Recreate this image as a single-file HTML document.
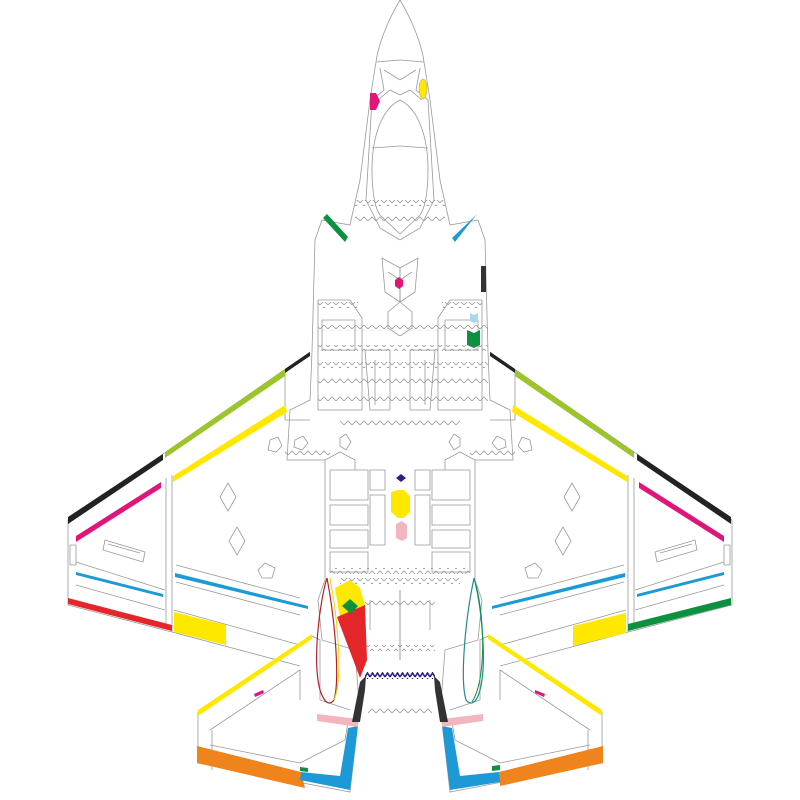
<!DOCTYPE html>
<html><head><meta charset="utf-8"><style>html,body{margin:0;padding:0;background:#fff}svg{display:block}</style></head>
<body>
<svg width="800" height="800" viewBox="0 0 800 800" xmlns="http://www.w3.org/2000/svg">
<defs>
<pattern id="zz" width="8" height="6" patternUnits="userSpaceOnUse"><path d="M0,5 L4,1 L8,5" fill="none" stroke="#999" stroke-width="0.8"/></pattern>
<pattern id="nz" width="5" height="6" patternUnits="userSpaceOnUse"><path d="M0,5 L2.5,1 L5,5" fill="none" stroke="#2a2180" stroke-width="1.6"/></pattern>
<g id="side" fill="none" stroke="#999" stroke-width="0.8">
  <path d="M310,352 L68,520 L68,605 L172,632 L300,666"/>
  <path d="M172,475 L172,632 M166,478 L166,628"/>
  <path d="M285,370 L285,420 L310,420"/>
  <path d="M76,562 L165,590 M76,585 L165,610 M176,565 L300,598 M176,582 L300,615 M174,610 L300,645"/>
  <path d="M105,540 L145,552 L143,562 L103,550 Z M108,544 L140,553"/>
  <path d="M228,483 L236,497 L228,511 L220,497 Z M237,527 L245,541 L237,555 L229,541 Z M265,563 L275,568 L272,578 L262,578 L258,570 Z M270,440 L278,437 L282,446 L276,452 L268,450 Z"/>
  <path d="M70,545 L76,545 L76,565 L70,565 Z"/>
  <path d="M198,712 L312,636 L320,640 L320,700 L350,710 M198,712 L198,763 L350,792 L358,722"/>
  <path d="M210,730 L300,670 L300,700 M212,730 L212,770 M210,745 L300,763 L345,740 L348,722"/>
  <path d="M400,0 C388,20 378,45 376,62 L370,100 L360,180 L350,225 L322,220 L315,240 L312,352 L310,400 L290,410 L287,460 L325,460 L325,580 L318,600 L322,640 L355,650 L360,715"/>
  <path d="M376,62 L400,60 M380,68 L384,90 L372,100 L366,200 L380,228 L400,240"/>
  <path d="M384,70 L400,80 M378,100 L390,90 L400,95"/>
  <path d="M400,100 C380,110 372,140 372,170 C372,195 376,210 380,215 L400,234"/>
  <path d="M372,148 L400,146"/>
  <path d="M382,258 L400,268 L400,302 L385,292 Z M388,272 L400,280"/>
  <path d="M400,302 L388,312 L388,328 L400,336"/>
  <path d="M318,300 L350,300 L362,318 L362,410 L318,410 Z M322,320 L355,320 L355,350 L322,350 Z"/>
  <path d="M365,350 L390,350 L390,410 L370,410 Z M375,360 L375,405"/>
  <path d="M330,470 L368,470 L368,500 L330,500 Z M330,505 L368,505 L368,525 L330,525 Z M330,530 L368,530 L368,548 L330,548 Z M330,552 L368,552 L368,572 L330,572 Z M370,470 L385,470 L385,490 L370,490 Z M370,495 L385,495 L385,545 L370,545 Z"/>
  <path d="M325,460 L340,452 L355,460 L355,470"/>
  <path d="M370,600 L370,630 M400,590 L400,660"/>
  <path d="M295,440 L303,436 L308,443 L302,450 L294,447 Z M340,438 L346,434 L351,442 L346,450 L340,446 Z"/>
</g>
</defs>
<use href="#side"/>
<use href="#side" transform="translate(800,0) scale(-1,1)"/>
<g>
  <rect x="355" y="200" width="90" height="6" fill="url(#zz)"/>
  <rect x="355" y="215" width="90" height="6" fill="url(#zz)"/>
  <rect x="318" y="302" width="40" height="6" fill="url(#zz)"/>
  <rect x="442" y="302" width="40" height="6" fill="url(#zz)"/>
  <rect x="318" y="325" width="170" height="6" fill="url(#zz)"/>
  <rect x="318" y="345" width="170" height="6" fill="url(#zz)"/>
  <rect x="318" y="362" width="170" height="6" fill="url(#zz)"/>
  <rect x="318" y="378" width="170" height="6" fill="url(#zz)"/>
  <rect x="318" y="395" width="170" height="6" fill="url(#zz)"/>
  <rect x="340" y="420" width="120" height="6" fill="url(#zz)"/>
  <rect x="285" y="450" width="45" height="6" fill="url(#zz)"/>
  <rect x="470" y="450" width="45" height="6" fill="url(#zz)"/>
  <rect x="330" y="568" width="140" height="6" fill="url(#zz)"/>
  <rect x="340" y="578" width="120" height="6" fill="url(#zz)"/>
  <rect x="365" y="600" width="70" height="6" fill="url(#zz)"/>
  <rect x="365" y="645" width="70" height="6" fill="url(#zz)"/>
  <rect x="368" y="708" width="64" height="6" fill="url(#zz)"/>
  <rect x="365" y="672" width="70" height="7" fill="url(#nz)"/>
</g>
<polygon points="370,93 376,93 380,101 376,110 370,110" fill="#e0157a"/>
<ellipse cx="423" cy="89" rx="4" ry="10" fill="#ffe800" stroke="#999" stroke-width="0.5"/>
<polygon points="323,218 327,214 348,237 345,242" fill="#0d9140"/>
<polygon points="473,218 477,214 455,242 452,238" fill="#1d9ad6"/>
<polygon points="395,280 399,277 403,280 403,286 399,289 395,286" fill="#e0157a"/>
<rect x="481" y="266" width="5" height="26" fill="#333"/>
<polygon points="470,313 474,315 478,313 478,321 474,323 470,321" fill="#a8d8f0"/>
<polygon points="467,330 474,333 480,330 480,345 474,348 467,345" fill="#0d9140"/>
<polygon points="396,478 401,474 406,478 401,482" fill="#2a2180"/>
<polygon points="391,492 398,490 404,490 410,496 410,512 404,518 398,518 391,512" fill="#ffe800"/>
<polygon points="396,524 402,521 407,525 407,538 402,541 396,538" fill="#f4b6be"/>
<g stroke="none">
<polygon points="285,369 310,352 310,356 285,373" fill="#222"/>
<polygon points="165,452 285,369 285,376 165,458" fill="#9dc42a"/>
<polygon points="68,517 163,454 163,460 68,524" fill="#222"/>
<polygon points="76,536 161,482 161,488 76,542" fill="#e0157a"/>
<polygon points="173,476 285,405 287,412 173,482" fill="#ffe800"/>
<polygon points="175,573 308,606 308,609 175,577" fill="#1d9ad6"/>
<polygon points="76,572 163,594 163,597 76,575" fill="#1d9ad6"/>
<polygon points="68,598 172,625 172,631 68,604" fill="#e4262b"/>
<polygon points="174,612 226,625 226,645 174,632" fill="#ffe800"/>
<polygon points="198,710 312,634 312,639 198,716" fill="#ffe800"/>
<polygon points="254,694 263,690 264,693 255,697" fill="#e0157a"/>
<polygon points="197,746 301,772 305,788 197,763" fill="#f0841c"/>
<polygon points="301,772 340,776 348,728 358,726 350,790 300,780" fill="#1d9ad6"/>
<polygon points="300,767 308,768 308,772 300,771" fill="#0d9140"/>
<polygon points="317,714 358,719 358,727 317,721" fill="#f4b6be"/>
<polygon points="352,722 360,682 366,676 365,690 360,722" fill="#333"/>
<polygon points="335,588 350,580 360,588 365,605 340,618" fill="#ffe800"/>
<polygon points="337,617 365,605 367,660 360,678" fill="#e4262b"/>
<polygon points="342,606 350,599 358,606 351,614" fill="#0d9140"/>
</g>
<path d="M327,578 C320,600 312,660 320,690 C325,705 330,705 334,700 C340,680 335,620 327,578 Z" fill="none" stroke="#b0202a" stroke-width="1.2"/>
<path d="M330,578 C338,620 343,680 334,700" fill="none" stroke="#e8d800" stroke-width="1"/>
<g stroke="none">
<polygon points="490,352 515,369 515,373 490,356" fill="#222"/>
<polygon points="515,369 634,452 634,458 515,376" fill="#9dc42a"/>
<polygon points="637,454 731,517 731,524 637,460" fill="#222"/>
<polygon points="639,482 724,536 724,542 639,488" fill="#e0157a"/>
<polygon points="513,405 627,476 627,482 512,412" fill="#ffe800"/>
<polygon points="492,606 625,573 625,577 492,609" fill="#1d9ad6"/>
<polygon points="637,594 724,572 724,575 637,597" fill="#1d9ad6"/>
<polygon points="628,624 731,598 731,605 628,631" fill="#0d9140"/>
<polygon points="573,626 626,613 626,633 573,646" fill="#ffe800"/>
<polygon points="488,634 602,710 602,716 488,639" fill="#ffe800"/>
<polygon points="535,690 545,694 544,697 535,693" fill="#e0157a"/>
<polygon points="499,772 603,746 603,763 500,786" fill="#f0841c"/>
<polygon points="499,772 460,776 452,728 442,726 450,790 500,782" fill="#1d9ad6"/>
<polygon points="492,766 500,765 500,770 492,771" fill="#0d9140"/>
<polygon points="442,719 483,714 483,721 442,727" fill="#f4b6be"/>
<polygon points="434,676 440,682 448,722 440,722 435,690" fill="#333"/>
</g>
<path d="M474,578 C480,600 488,660 480,690 C476,705 470,705 466,700 C460,680 465,620 474,578 Z" fill="none" stroke="#1f8a9a" stroke-width="1.2"/>
<path d="M476,585 C485,620 486,680 472,702" fill="none" stroke="#0d9140" stroke-width="1"/>
</svg>
</body></html>
